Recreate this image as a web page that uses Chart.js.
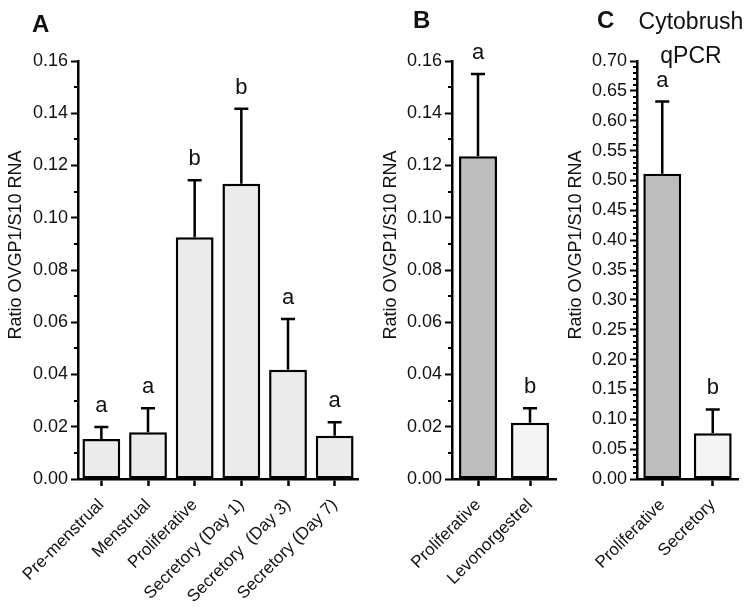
<!DOCTYPE html>
<html>
<head>
<meta charset="utf-8">
<script src="https://cdn.jsdelivr.net/npm/chart.js@4.4.0/dist/chart.umd.min.js"></script>
<style>
  body { margin: 0; background: #fff; }
  #wrap { position: relative; width: 750px; height: 610px; font-family: "Liberation Sans", Arial, sans-serif; color: #111; }
  canvas { position: absolute; top: 0; }
  .panel { position: absolute; font-weight: bold; font-size: 24px; line-height: 1; }
  .note { position: absolute; font-size: 23px; text-align: center; width: 140px; line-height: 34px; }
</style>
</head>
<body>
<div id="wrap">
  <canvas id="chartA" style="left:0px" width="368" height="610"></canvas>
  <canvas id="chartB" style="left:370px" width="190" height="610"></canvas>
  <canvas id="chartC" style="left:560px" width="190" height="610"></canvas>
  <div class="panel" style="left:32px; top:12px;">A</div>
  <div class="panel" style="left:413px; top:8px;">B</div>
  <div class="panel" style="left:597px; top:8px;">C</div>
  <div class="note" style="left:621px; top:4px;">Cytobrush<br>qPCR</div>
</div>
<script>
// --- DATA ---
const catsA = ["Pre-menstrual", "Menstrual", "Proliferative", "Secretory (Day 1)", "Secretory  (Day 3)", "Secretory (Day 7)"];
const meanA = [0.0153, 0.0179, 0.0925, 0.1130, 0.0418, 0.0166];
const errA = [0.0046, 0.0092, 0.0219, 0.0287, 0.0194, 0.0051];
const lettersA = ["a", "a", "b", "b", "a", "a"];

const catsB = ["Proliferative", "Levonorgestrel"];
const meanB = [0.1235, 0.0215];
const errB = [0.0315, 0.0056];
const lettersB = ["a", "b"];

const catsC = ["Proliferative", "Secretory"];
const meanC = [0.511, 0.0765];
const errC = [0.121, 0.040];
const lettersC = ["a", "b"];

const yTitle = "Ratio OVGP1/S10 RNA";
const FONT = '"Liberation Sans", Arial, sans-serif';

// error bars + significance letters
const errorBars = {
    id: "errorBars",
    afterDatasetsDraw(chart) {
        const { ctx, scales: { y } } = chart;
        const ds = chart.data.datasets[0];
        const meta = chart.getDatasetMeta(0);
        ctx.save();
        ctx.strokeStyle = "#000";
        ctx.lineWidth = 2.5;
        ctx.fillStyle = "#111";
        ctx.font = "22px " + FONT;
        ctx.textAlign = "center";
        ctx.textBaseline = "alphabetic";
        meta.data.forEach((bar, i) => {
            const top = y.getPixelForValue(ds.data[i] + ds.errors[i]);
            ctx.beginPath();
            ctx.moveTo(bar.x, bar.y);
            ctx.lineTo(bar.x, top);
            ctx.moveTo(bar.x - 7, top);
            ctx.lineTo(bar.x + 7, top);
            ctx.stroke();
            ctx.fillText(ds.letters[i], bar.x, top - 15);
        });
        ctx.restore();
    }
};

// small ticks between labelled ones + rotated y title
const axisExtras = {
    id: "axisExtras",
    afterDraw(chart, args, opts) {
        const { ctx, scales: { y } } = chart;
        ctx.save();
        ctx.strokeStyle = "#000";
        ctx.lineWidth = 2;
        const n = Math.round(y.max / opts.minor);
        for (let k = 1; k < n; k++) {
            const v = k * opts.minor;
            if (Math.abs(v / opts.major - Math.round(v / opts.major)) < 1e-6) continue;
            const py = Math.round(y.getPixelForValue(v));
            ctx.beginPath();
            ctx.moveTo(y.right - 4, py);
            ctx.lineTo(y.right, py);
            ctx.stroke();
        }
        ctx.translate(opts.titleX, opts.titleY);
        ctx.rotate(-Math.PI / 2);
        ctx.fillStyle = "#111";
        ctx.font = "18px " + FONT;
        ctx.textAlign = "center";
        ctx.textBaseline = "middle";
        ctx.fillText(yTitle, 0, 0);
        ctx.restore();
    }
};

function makeChart(id, cats, means, errs, letters, colors, cfg) {
    new Chart(document.getElementById(id).getContext("2d"), {
        type: "bar",
        data: {
            labels: cats,
            datasets: [{
                data: means,
                errors: errs,
                letters: letters,
                backgroundColor: colors,
                borderColor: "#000",
                borderWidth: 2.5,
                borderSkipped: false,
                barPercentage: cfg.barPct,
                categoryPercentage: 1
            }]
        },
        options: {
            responsive: false,
            animation: false,
            events: [],
            layout: { padding: { left: 0, right: cfg.padRight, top: 61, bottom: 0 } },
            scales: {
                x: {
                    afterFit: s => { s.height = 131; },
                    grid: { drawOnChartArea: false, offset: false, tickLength: 7, tickWidth: 2.5, tickColor: "#000" },
                    border: { color: "#000", width: 2.5 },
                    ticks: { color: "#111", font: { family: FONT, size: 17 }, maxRotation: 45, minRotation: 45, padding: 9 }
                },
                y: {
                    min: 0,
                    max: cfg.max,
                    afterFit: s => { s.width = cfg.axisLeft; },
                    grid: { drawOnChartArea: false, tickLength: 7, tickWidth: 2, tickColor: "#000" },
                    border: { color: "#000", width: 2.5 },
                    ticks: {
                        stepSize: cfg.major,
                        color: "#111",
                        font: { family: FONT, size: 18 },
                        padding: 3,
                        callback: v => v.toFixed(2)
                    }
                }
            },
            plugins: {
                legend: { display: false },
                tooltip: { enabled: false },
                axisExtras: { minor: 0.01, major: cfg.major, titleX: cfg.titleX, titleY: 245 }
            }
        },
        plugins: [errorBars, axisExtras]
    });
}

makeChart("chartA", catsA, meanA, errA, lettersA, "#ebebeb",
    { barPct: 0.81, padRight: 10, axisLeft: 78, max: 0.16, major: 0.02, titleX: 16 });
makeChart("chartB", catsB, meanB, errB, lettersB, ["#bdbdbd", "#f4f4f4"],
    { barPct: 0.73, padRight: 4, axisLeft: 82, max: 0.16, major: 0.02, titleX: 21 });
makeChart("chartC", catsC, meanC, errC, lettersC, ["#bdbdbd", "#f4f4f4"],
    { barPct: 0.75, padRight: 12, axisLeft: 77, max: 0.70, major: 0.05, titleX: 16 });
</script>
</body>
</html>
